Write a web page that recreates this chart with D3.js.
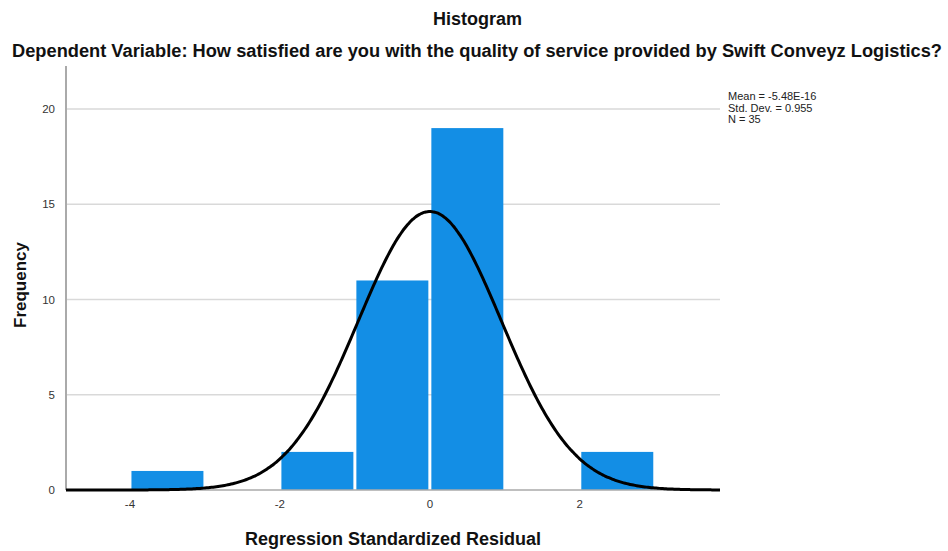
<!DOCTYPE html>
<html><head><meta charset="utf-8">
<script src="https://cdn.jsdelivr.net/npm/d3@7"></script>
<style>body{margin:0;background:#fff;} svg{display:block;font-family:"Liberation Sans",Arial,sans-serif;}</style>
</head><body>
<svg id="c" width="948" height="551"></svg>
<script>
const binStarts = [-4, -2, -1, 0, 2];
const binEnds = [-3, -1, 0, 1, 3];
const counts = [1, 2, 11, 19, 2];
const xTicks = [-4, -2, 0, 2];
const yTicks = [0, 5, 10, 15, 20];
const statsLines = ["Mean = -5.48E-16", "Std. Dev. = 0.955", "N = 35"];
const mean = 0, sd = 0.955, n = 35;

const svg = d3.select("#c");
const L = 66, R = 720, T = 66, B = 490;
const x = d3.scaleLinear().domain([-4.853, 3.87]).range([L, R]);
const y = d3.scaleLinear().domain([0, 22.26]).range([B, T]);

// gridlines
svg.append("g").selectAll("line").data(yTicks.filter(d=>d>0)).join("line")
  .attr("x1", L).attr("x2", R).attr("y1", d=>y(d)).attr("y2", d=>y(d))
  .attr("stroke", "#d9d9d9").attr("stroke-width", 1.5);

// bars
const bins = binStarts.map((s,i)=>({x0:s, x1:binEnds[i], c:counts[i]}));
svg.append("g").selectAll("rect").data(bins).join("rect")
  .attr("x", d=>x(d.x0)+1.5).attr("width", d=>x(d.x1)-x(d.x0)-3)
  .attr("y", d=>y(d.c)).attr("height", d=>y(0)-y(d.c))
  .attr("fill", "#138ee5");

// axes lines
svg.append("line").attr("x1", L).attr("x2", L).attr("y1", T).attr("y2", B)
  .attr("stroke", "#aaaaaa").attr("stroke-width", 2);
svg.append("line").attr("x1", L).attr("x2", R).attr("y1", B).attr("y2", B)
  .attr("stroke", "#aaaaaa").attr("stroke-width", 1.5);

// normal curve
const xs = d3.range(0, 401).map(i => x.invert(L + (R-L)*i/400));
const dens = v => n * 1 / (sd*Math.sqrt(2*Math.PI)) * Math.exp(-0.5*((v-mean)/sd)**2);
svg.append("path").datum(xs)
  .attr("d", d3.line().x(d=>x(d)).y(d=>y(dens(d))).curve(d3.curveBasis))
  .attr("fill", "none").attr("stroke", "#000").attr("stroke-width", 3);

// tick labels
svg.append("g").selectAll("text").data(yTicks).join("text")
  .attr("x", 55).attr("y", d=>y(d)).attr("dy", "0.35em").attr("text-anchor", "end")
  .attr("font-size", 11.5).attr("fill", "#333").text(d=>d);
svg.append("g").selectAll("text").data(xTicks).join("text")
  .attr("x", d=>x(d)).attr("y", 508).attr("text-anchor", "middle")
  .attr("font-size", 11.5).attr("fill", "#333").text(d=>d);

// titles
svg.append("text").attr("x", 433).attr("y", 25)
  .attr("font-size", 18).attr("font-weight", "bold").attr("fill", "#111").text("Histogram");
svg.append("text").attr("x", 12).attr("y", 57)
  .attr("font-size", 18).attr("font-weight", "bold").attr("fill", "#111")
  .attr("textLength", 930).attr("lengthAdjust", "spacingAndGlyphs")
  .text("Dependent Variable: How satisfied are you with the quality of service provided by Swift Conveyz Logistics?");
svg.append("text").attr("transform", "translate(26,285) rotate(-90)").attr("text-anchor", "middle")
  .attr("font-size", 17).attr("font-weight", "bold").attr("fill", "#111").text("Frequency");
svg.append("text").attr("x", 393).attr("y", 545).attr("text-anchor", "middle")
  .attr("font-size", 18).attr("font-weight", "bold").attr("fill", "#111").text("Regression Standardized Residual");

// stats
svg.append("g").selectAll("text").data(statsLines).join("text")
  .attr("x", 728).attr("y", (d,i)=>100+i*11.5).attr("font-size", 11).attr("fill", "#222").text(d=>d);
</script>
</body></html>
